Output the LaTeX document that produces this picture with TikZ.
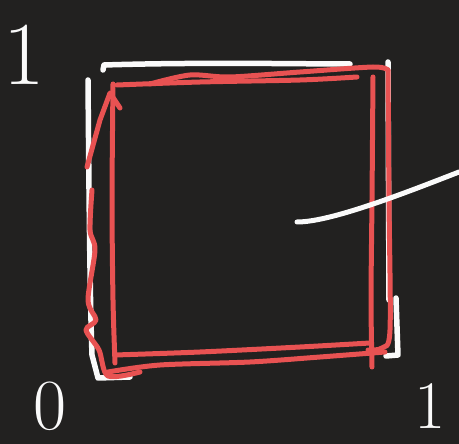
\documentclass[tikz,border=0pt]{standalone}
\usepackage{tikz}
\usetikzlibrary{calc}
\definecolor{BoardBlack}{RGB}{34,33,32}
\definecolor{ChalkWhite}{RGB}{250,250,250}
\definecolor{MarkerRed}{RGB}{232,82,82}

\begin{document}
\begin{tikzpicture}[x=1pt,y=-1pt,line cap=round,line join=round,
    chalk/.style={ChalkWhite,line width=5.5pt},
    marker/.style={MarkerRed,line width=5pt},
    digit/.style={ChalkWhite,inner sep=0pt}]
      \fill[BoardBlack] (0,0) rectangle (459,444);
      \useasboundingbox (0,0) rectangle (459,444);
      % white square
      \draw[chalk] (103,70) -- (104,65) .. controls (200,62) and (300,64) .. (350,64);
      \draw[chalk] (388,62) -- (389,300);
      \draw[chalk] (88,80) .. controls (89,200) and (90,300) .. (92,355) -- (98,378) -- (130,377);
      \draw[chalk] (396,298) -- (398,355) -- (386,356);
      % red square, drawn twice by hand
      \draw[marker] plot[smooth] coordinates {(117,85) (200,82) (300,80) (357,77)};
      \draw[marker] plot[smooth] coordinates {(150,84) (190,75) (230,77) (300,72) (373,67) (388,70)};
      \draw[marker] plot[smooth] coordinates {(373,77) (372,200) (371,300) (372,367)};
      \draw[marker] plot[smooth] coordinates {(388,70) (389,200) (390,330) (382,348) (368,350)};
      \draw[marker] plot[smooth] coordinates {(115,355) (200,352) (300,347) (370,343)};
      \draw[marker] plot[smooth] coordinates {(108,372) (160,365) (250,362) (320,357) (385,352)};
      \draw[marker] plot[smooth] coordinates {(113,84) (112,200) (113,300) (115,363)};
      \draw[marker] (87,167) -- (100,120) -- (110,93) -- (120,108);
      \draw[marker] plot[smooth] coordinates {(92,190) (90,230) (95,250) (88,300) (96,320) (86,330) (99,350) (108,376) (140,372)};
      % white line from the middle
      \coordinate (mid) at (297,222);
      \coordinate (edge) at (459,172);
      \draw[chalk,line width=5pt] (mid) .. controls (330,222) and (400,195) .. (edge);
      % labels
      \node[digit,font=\fontsize{90}{90}\selectfont] (yone) at (24,55) {1};
      \node[digit,font=\fontsize{72}{72}\selectfont] (zero) at (50,406) {0};
      \node[digit,font=\fontsize{68}{68}\selectfont] (xone) at (430,406) {1};
    \end{tikzpicture}
\end{document}
